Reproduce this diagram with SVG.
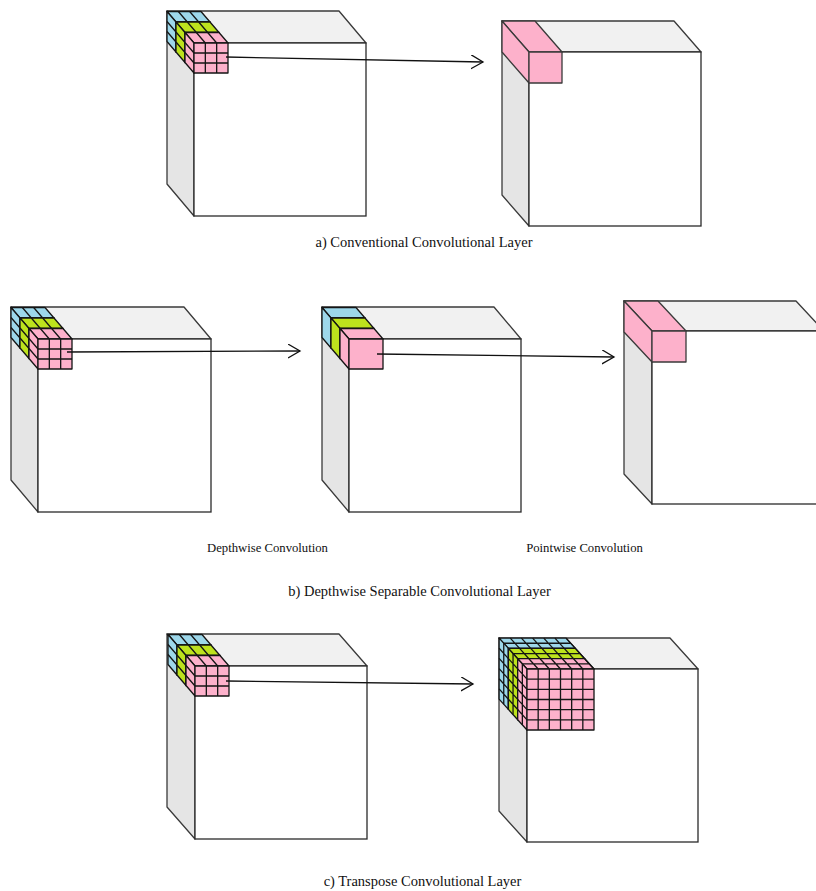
<svg xmlns="http://www.w3.org/2000/svg" xmlns:xlink="http://www.w3.org/1999/xlink" width="816" height="891" viewBox="0 0 816 891">
<style>
.top{fill:#f1f1f1;stroke:#3a3a3a;stroke-width:1.3;stroke-linejoin:round}
.side{fill:#e5e5e5;stroke:#3a3a3a;stroke-width:1.3;stroke-linejoin:round}
.front{fill:#ffffff;stroke:#2a2a2a;stroke-width:1.3}
.k{stroke:#151515;stroke-width:1.3;stroke-linejoin:round}
.blue{fill:#9dd7ea}
.green{fill:#bde21d}
.pink{fill:#fdb1cb}
.pinkbox{fill:#fdb1cb;stroke:#3a3a3a;stroke-width:1.3;stroke-linejoin:round}
.conn{fill:none;stroke:#111;stroke-width:1.3}
.cap{font-family:"Liberation Serif","Times New Roman",serif;font-size:14.5px;fill:#111;text-anchor:middle}
.sub{font-family:"Liberation Serif","Times New Roman",serif;font-size:12.7px;fill:#111;text-anchor:middle}
</style>
<defs>
<marker id="arr" markerUnits="userSpaceOnUse" markerWidth="16" markerHeight="16" refX="12" refY="7" orient="auto" viewBox="0 0 16 16">
<path d="M0,0 L12,7 L0,14" fill="none" stroke="#111" stroke-width="1.3"/>
</marker>
<g id="s3">
<polygon points="0,0 34,0 25,-10.5 -9,-10.5"/>
<polygon points="0,0 -9,-10.5 -9,19.5 0,30"/>
<rect x="0" y="0" width="34" height="30"/>
<path fill="none" d="M11.33,0 l-9,-10.5 M22.67,0 l-9,-10.5 M0,10 l-9,-10.5 M0,20 l-9,-10.5 M11.33,0 V30 M22.67,0 V30 M0,10 H34 M0,20 H34"/>
</g>
<g id="s1">
<polygon points="0,0 34,0 25,-10.5 -9,-10.5"/>
<polygon points="0,0 -9,-10.5 -9,19.5 0,30"/>
<rect x="0" y="0" width="34" height="30"/>
</g>
<g id="s6">
<polygon points="0,0 67,0 57.7,-10.3 -9.3,-10.3"/>
<polygon points="0,0 -9.3,-10.3 -9.3,50.7 0,61"/>
<rect x="0" y="0" width="67" height="61"/>
<path fill="none" d="M11.17,0 V61 M22.33,0 V61 M33.5,0 V61 M44.67,0 V61 M55.83,0 V61 M0,10.17 H67 M0,20.33 H67 M0,30.5 H67 M0,40.67 H67 M0,50.83 H67 M11.17,0 l-9.3,-10.3 M22.33,0 l-9.3,-10.3 M33.5,0 l-9.3,-10.3 M44.67,0 l-9.3,-10.3 M55.83,0 l-9.3,-10.3 M67,0 l-9.3,-10.3 M-4.65,-5.15 h67 M0,10.17 l-9.3,-10.3 M0,20.33 l-9.3,-10.3 M0,30.5 l-9.3,-10.3 M0,40.67 l-9.3,-10.3 M0,50.83 l-9.3,-10.3 M-4.65,-5.15 v61"/>
</g>
</defs>
<rect width="816" height="891" fill="#ffffff"/>

<g id="a-input">
<polygon class="top" points="194,43 366,43 339,11 167,11"/>
<polygon class="side" points="194,43 167,11 167,184 194,216"/>
<rect class="front" x="194" y="43" width="172" height="173"/>
<use href="#s3" x="176" y="22" class="k blue"/>
<use href="#s3" x="185" y="32.5" class="k green"/>
<use href="#s3" x="194" y="43" class="k pink"/>
</g>
<g id="a-output">
<polygon class="top" points="529,52 701,52 674,21 502,21"/>
<polygon class="side" points="529,52 502,21 502,195 529,226"/>
<rect class="front" x="529" y="52" width="172" height="174"/>
<polygon class="pinkbox" points="529,52 562,52 535,21 502,21"/>
<polygon class="pinkbox" points="529,52 502,21 502,52 529,83"/>
<rect class="pinkbox" x="529" y="52" width="33" height="31"/>
</g>

<g id="b-input">
<polygon class="top" points="38,339 211,339 184,307 11,307"/>
<polygon class="side" points="38,339 11,307 11,480 38,512"/>
<rect class="front" x="38" y="339" width="173" height="173"/>
<use href="#s3" x="20" y="318" class="k blue"/>
<use href="#s3" x="29" y="328.5" class="k green"/>
<use href="#s3" x="38" y="339" class="k pink"/>
</g>
<g id="b-depthwise">
<polygon class="top" points="349,339 521,339 494,307 322,307"/>
<polygon class="side" points="349,339 322,307 322,480 349,512"/>
<rect class="front" x="349" y="339" width="172" height="173"/>
<use href="#s1" x="331" y="318" class="k blue"/>
<use href="#s1" x="340" y="328.5" class="k green"/>
<use href="#s1" x="349" y="339" class="k pink"/>
</g>
<g id="b-pointwise">
<polygon class="top" points="652,331 824,331 796,301 624,301"/>
<polygon class="side" points="652,331 624,301 624,474 652,504"/>
<rect class="front" x="652" y="331" width="172" height="173"/>
<polygon class="pinkbox" points="652,331 686,331 658,301 624,301"/>
<polygon class="pinkbox" points="652,331 624,301 624,332 652,362"/>
<rect class="pinkbox" x="652" y="331" width="34" height="31"/>
</g>

<g id="c-input">
<polygon class="top" points="195,666 367,666 339,634 167,634"/>
<polygon class="side" points="195,666 167,634 167,807 195,839"/>
<rect class="front" x="195" y="666" width="172" height="173"/>
<use href="#s3" x="177" y="645" class="k blue"/>
<use href="#s3" x="186" y="655.5" class="k green"/>
<use href="#s3" x="195" y="666" class="k pink"/>
</g>
<g id="c-output">
<polygon class="top" points="527,669 698,669 670,638 499,638"/>
<polygon class="side" points="527,669 499,638 499,811 527,842"/>
<rect class="front" x="527" y="669" width="171" height="173"/>
<use href="#s6" x="508.4" y="648.4" class="k blue"/>
<use href="#s6" x="517.7" y="658.7" class="k green"/>
<use href="#s6" x="527" y="669" class="k pink"/>
</g>

<g id="connectors">
<path class="conn" d="M226,57 L483,62" marker-end="url(#arr)"/>
<path class="conn" d="M67,352 L300,351" marker-end="url(#arr)"/>
<path class="conn" d="M377,354 L614,357" marker-end="url(#arr)"/>
<path class="conn" d="M226,681 L473,684" marker-end="url(#arr)"/>
</g>

<g id="labels">
<text class="cap" x="424" y="247">a) Conventional Convolutional Layer</text>
<text class="sub" x="267.5" y="552">Depthwise Convolution</text>
<text class="sub" x="584.5" y="552">Pointwise Convolution</text>
<text class="cap" x="419.5" y="596">b) Depthwise Separable Convolutional Layer</text>
<text class="cap" x="422.5" y="886">c) Transpose Convolutional Layer</text>
</g>
</svg>
